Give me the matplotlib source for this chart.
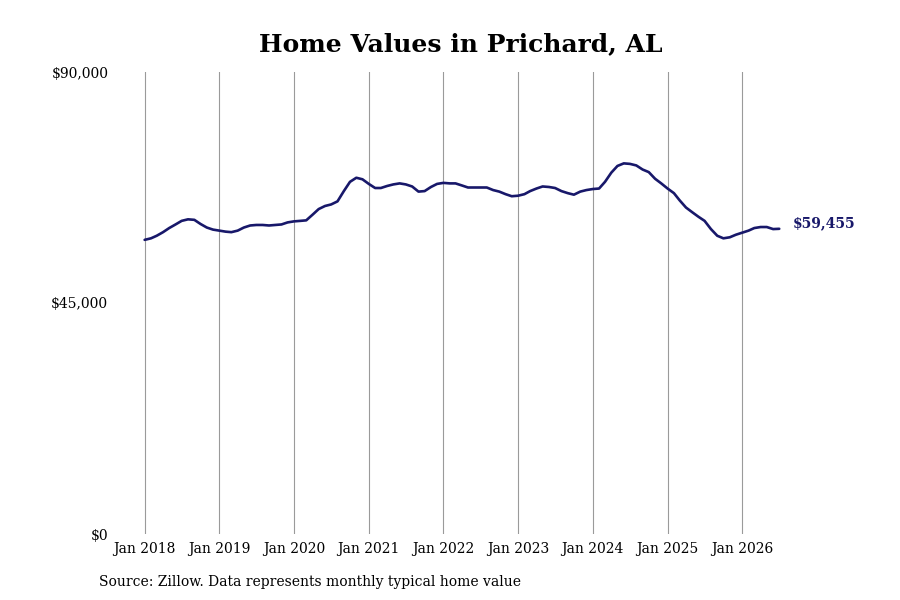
"""Home values chart for Prichard, AL (Zillow monthly typical home value)."""
import numpy as np
import pandas as pd
import matplotlib
matplotlib.use("Agg")
import matplotlib.pyplot as plt
import matplotlib.dates as mdates
from matplotlib.ticker import FuncFormatter

# Monthly typical home value, Jan 2018 onwards (USD)
START_MONTH = "2018-01-01"
home_values = [
    57300, 57600, 58100, 58800, 59600, 60300, 61000, 61300, 61200, 60400, 59700, 59300,
    59100, 58900, 58800, 59100, 59700, 60100, 60200, 60200, 60100, 60200, 60300, 60700,
    60900, 61000, 61100, 62200, 63300, 63900, 64200, 64800, 66800, 68600, 69400, 69100,
    68200, 67400, 67400, 67800, 68100, 68300, 68100, 67700, 66700, 66800, 67600, 68200,
    68400, 68300, 68300, 67900, 67500, 67500, 67500, 67500, 67000, 66700, 66200, 65800,
    65900, 66200, 66800, 67300, 67700, 67600, 67400, 66800, 66400, 66100, 66700, 67000,
    67200, 67300, 68600, 70400, 71700, 72200, 72100, 71800, 71000, 70500, 69200, 68300,
    67300, 66400, 65000, 63600, 62700, 61800, 61000, 59400, 58100, 57600, 57800, 58300,
    58700, 59100, 59600, 59800, 59800, 59400, 59455,
]
y_ticks = [0, 45000, 90000]
tick_years = list(range(2018, 2027))

LINE_COLOR = "#18186a"
SERIF = ["DejaVu Serif Condensed", "DejaVu Serif"]

dates = pd.date_range(START_MONTH, periods=len(home_values), freq="MS")

fig = plt.figure(figsize=(9, 6), dpi=100)
ax = fig.add_axes([0.128, 0.11, 0.751, 0.77])

ax.plot(dates, home_values, color=LINE_COLOR, linewidth=1.9, solid_capstyle="round")

# End label
ax.annotate(f"${home_values[-1]:,.0f}", xy=(dates[-1], home_values[-1]),
            xytext=(10, 4), textcoords="offset points", va="center", ha="left",
            fontsize=10, fontweight="bold", color=LINE_COLOR, family="DejaVu Serif",
            annotation_clip=False)

ax.set_ylim(0, 90000)
ax.set_xlim(pd.Timestamp("2017-08-10"), pd.Timestamp("2026-08-28"))
ax.set_yticks(y_ticks)
ax.yaxis.set_major_formatter(FuncFormatter(lambda v, _: f"${v:,.0f}"))

tick_dates = [pd.Timestamp(f"{y}-01-01") for y in tick_years]
ax.set_xticks(tick_dates)
ax.xaxis.set_major_formatter(mdates.DateFormatter("Jan %Y"))

ax.grid(True, axis="x", color="#9a9a9a", linewidth=0.8)
ax.grid(False, axis="y")
for side in ax.spines.values():
    side.set_visible(False)
ax.tick_params(axis="both", length=0, labelsize=10, colors="black")
ax.tick_params(axis="x", pad=6)
ax.tick_params(axis="y", pad=5)
for lbl in ax.get_xticklabels() + ax.get_yticklabels():
    lbl.set_family(SERIF)

fig.text(0.512, 0.927, "Home Values in Prichard, AL", ha="center", va="center",
         fontsize=18, fontweight="bold", family="DejaVu Serif")
fig.text(0.11, 0.03, "Source: Zillow. Data represents monthly typical home value",
         ha="left", va="center", fontsize=10, family=SERIF)

fig.savefig("out.png", dpi=100, facecolor="white")
